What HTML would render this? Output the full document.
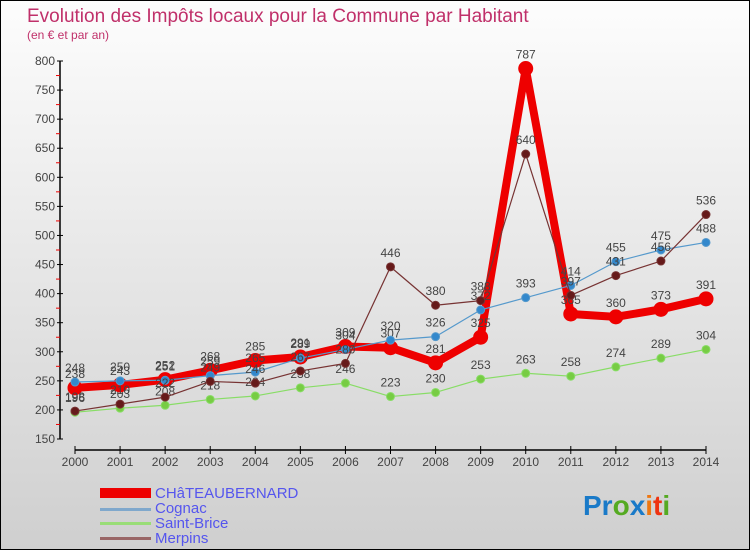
<!DOCTYPE html>
<html><head><meta charset="utf-8"><style>
body{margin:0;width:750px;height:550px;overflow:hidden;font-family:"Liberation Sans",sans-serif}
</style></head><body>
<svg width="750" height="550" xmlns="http://www.w3.org/2000/svg">
<defs><linearGradient id="bg" x1="0" y1="0" x2="0" y2="1"><stop offset="0" stop-color="#fdfdfd"/><stop offset="1" stop-color="#cfcfcf"/></linearGradient></defs>
<rect x="0.5" y="0.5" width="749" height="549" fill="url(#bg)" stroke="#000"/>
<text x="27" y="22" font-size="19" fill="#c0306a">Evolution des Impôts locaux pour la Commune par Habitant</text>
<text x="27" y="39" font-size="12" fill="#c0306a">(en € et par an)</text>
<g id="axes"></g><g id="series"></g>
<g font-size="15" fill="#5555ee">
<rect x="100" y="488" width="51" height="10" fill="#ee0000"/>
<text x="155" y="498">CHâTEAUBERNARD</text>
<rect x="100" y="508" width="51" height="3" fill="#80a8cc"/>
<text x="155" y="513">Cognac</text>
<rect x="100" y="522" width="51" height="3" fill="#99dd77"/>
<text x="155" y="528">Saint-Brice</text>
<rect x="100" y="537" width="51" height="3" fill="#996666"/>
<text x="155" y="543">Merpins</text>
</g>
<g font-size="28" font-weight="bold">
<text x="583" y="515"><tspan fill="#1a7ac8">Pr</tspan><tspan fill="#55aa22">o</tspan><tspan fill="#1a7ac8">x</tspan><tspan fill="#ee7711">i</tspan><tspan fill="#ee3311">t</tspan><tspan fill="#55aa22">i</tspan></text>
</g>
</svg>
<script>
const years=["2000","2001","2002","2003","2004","2005","2006","2007","2008","2009","2010","2011","2012","2013","2014"];
const yTicks=[150,200,250,300,350,400,450,500,550,600,650,700,750,800];
const chateaubernard=[238,243,252,268,285,291,309,307,281,325,787,365,360,373,391];
const cognac=[248,250,251,259,265,289,304,320,326,372,393,414,455,475,488];
const saintBrice=[196,203,208,218,224,238,246,223,230,253,263,258,274,289,304];
const merpins=[198,210,222,249,246,267,280,446,380,388,640,397,431,456,536];
const NS="http://www.w3.org/2000/svg";
const X=i=>75+i*(706-75)/(years.length-1);
const Y=v=>439-(v-150)*(439-61)/650;
function mk(t,a,p){const e=document.createElementNS(NS,t);for(const k in a)e.setAttribute(k,a[k]);p.appendChild(e);return e;}
const ax=document.getElementById('axes');
let l=mk('line',{x1:60,y1:61,x2:60,y2:439,stroke:'#000','stroke-width':1.5},ax);


yTicks.forEach(v=>{
 mk('line',{x1:57,x2:63,y1:Y(v),y2:Y(v),stroke:'#000'},ax);
 if(v<800)mk('line',{x1:56,x2:60,y1:Y(v+25),y2:Y(v+25),stroke:'#e00'},ax);
 const t=mk('text',{x:55,y:Y(v)+4,'font-size':12,fill:'#444','text-anchor':'end'},ax);
 t.textContent=v;
 
 
});
l=mk('line',{x1:75,y1:450,x2:706,y2:450,stroke:'#000','stroke-width':1.5},ax);


years.forEach((y,i)=>{
 mk('line',{x1:X(i),x2:X(i),y1:446,y2:454,stroke:'#000'},ax);
 const t=mk('text',{x:X(i),y:466,'font-size':12,fill:'#444','text-anchor':'middle'},ax);
 t.textContent=y;
 
 
});
const sg=document.getElementById('series');
function draw(name,vals,color,w,r,dot){
 const g=mk('g',{},sg);
 
 
 mk('polyline',{points:vals.map((v,i)=>X(i)+','+Y(v)).join(' '),fill:'none',stroke:color,'stroke-width':w,'stroke-linejoin':'round'},g);
 vals.forEach((v,i)=>{
  const c=mk('circle',{cx:X(i),cy:Y(v),r:r,fill:dot,stroke:color,'stroke-width':1},g);
  
  
  const t=mk('text',{x:X(i),y:Y(v)-10,'font-size':12,fill:'#444','text-anchor':'middle'},g);
  t.textContent=v;
  
  
 });
}
draw('saint-brice',saintBrice,'#88dd66',1.2,4,'#77cc44');
draw('chateaubernard',chateaubernard,'#ee0000',8,7,'#ee0000');
draw('cognac',cognac,'#5599cc',1.2,4,'#3388cc');
draw('merpins',merpins,'#773333',1.2,4,'#661a1a');
</script>
</body></html>
